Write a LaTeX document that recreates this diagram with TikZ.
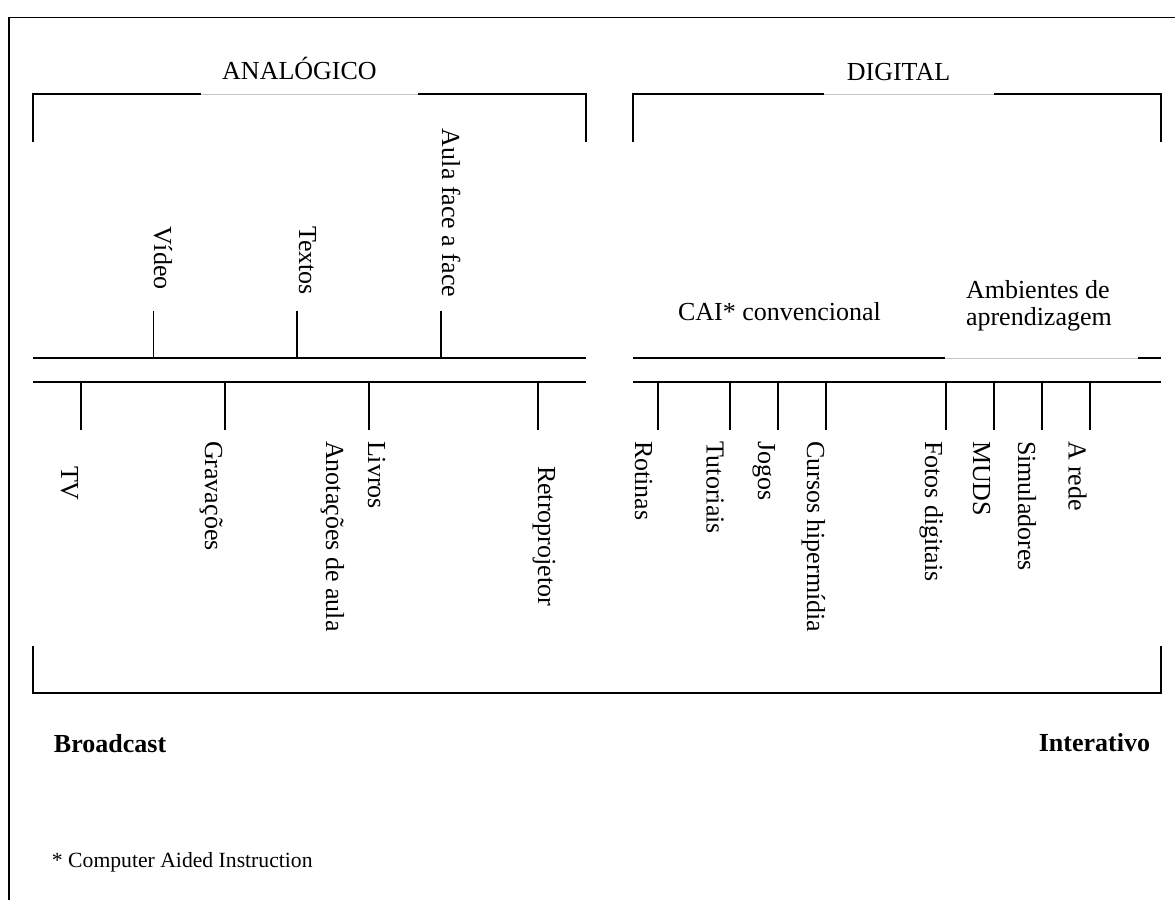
\documentclass[tikz,border=0pt]{standalone}
\usepackage{fontspec}
\setmainfont{Liberation Serif}
\usepackage{tikz}
\tikzstyle{every node}=[inner sep=0pt,font=\fontsize{12}{12.5}\selectfont]
\tikzstyle{vlabel}=[rotate=-90,anchor=base west]
\tikzstyle{boxedge}=[gray!45,line width=0.45pt]
\newcommand{\tickup}[1]{
  \draw (#1, 358) -- (#1, 311);
}
\newcommand{\tickdown}[1]{
  \draw (#1, 382) -- (#1, 430);
}
\begin{document}
\begin{tikzpicture}[x=0.4615pt,y=-0.4615pt,line width=0.92pt]
\useasboundingbox (0,0) rectangle (1175,900);
  \draw (9,900) -- (9,17.5) -- (1175,17.5);
  \draw
    (33, 142)
     -- (33, 94)
     -- (201, 94);
  \draw[boxedge] (201, 94) -- (418, 94);
  \draw
    (418, 94)
     -- (585.5, 94)
     -- (585.5, 142);
  \draw
    (633, 142)
     -- (633, 94)
     -- (824, 94);
  \draw[boxedge] (824, 94) -- (994, 94);
  \draw
    (994, 94)
     -- (1161, 94)
     -- (1161, 142);
  \node[anchor=base] (analogico) at (299.5, 79) {ANALÓGICO};
  \node[anchor=base] (digital) at (898.5, 80) {DIGITAL};
  \draw (33, 358) -- (585.5, 358);
  \draw (33, 382) -- (585.5, 382);
  \draw (633, 358) -- (945, 358);
  \draw[boxedge] (945, 358) -- (1138, 358);
  \draw (1138, 358) -- (1161, 358);
  \draw (633, 382) -- (1161, 382);
\tickup{153.5};
\tickup{297.4};
\tickup{441.3};
\tickdown{81};
\tickdown{225};
\tickdown{369.3};
\tickdown{537.7};
\tickdown{657.5};
\tickdown{729.5};
\tickdown{778};
\tickdown{825.5};
\tickdown{945.6};
\tickdown{993.5};
\tickdown{1042};
\tickdown{1090};
  \node[vlabel] (video) at (154, 225) {Vídeo};
  \node[vlabel] (textos) at (299, 225) {Textos};
  \node[vlabel] (aula) at (442, 128) {Aula face a face};
  \node[vlabel] (tv) at (61, 465) {TV};
  \node[vlabel] (gravacoes) at (205, 440) {Gravações};
  \node[vlabel] (anotacoes) at (326, 440) {Anotações de aula};
  \node[vlabel] (livros) at (368, 440) {Livros};
  \node[vlabel] (retro) at (538, 465) {Retroprojetor};
  \node[vlabel] (rotinas) at (635, 440) {Rotinas};
  \node[vlabel] (tutoriais) at (706.5, 440) {Tutoriais};
  \node[vlabel] (jogos) at (758, 440) {Jogos};
  \node[vlabel] (cursos) at (807, 440) {Cursos hipermídia};
  \node[vlabel] (fotos) at (925, 440) {Fotos digitais};
  \node[vlabel] (muds) at (973, 440) {MUDS};
  \node[vlabel] (simul) at (1018, 440) {Simuladores};
  \node[vlabel] (arede) at (1068.5, 440) {A rede};
  \node[anchor=base west] (cai) at (677, 320) {CAI* convencional};
  \node[anchor=north west,align=left] (ambientes) at (965, 279) {Ambientes de\\aprendizagem};
  \draw
    (33, 646)
     -- (33, 693)
     -- (1161, 693)
     -- (1161, 646);
  \node[anchor=base west,font=\fontsize{12}{12.5}\selectfont\bfseries] (broadcast) at (53, 752) {Broadcast};
  \node[anchor=base east,font=\fontsize{12}{12.5}\selectfont\bfseries] (interativo) at (1151, 751) {Interativo};
  \node[anchor=base west,font=\fontsize{10}{12}\selectfont] (nota) at (51, 867) {* Computer Aided Instruction};
\end{tikzpicture}
\end{document}
